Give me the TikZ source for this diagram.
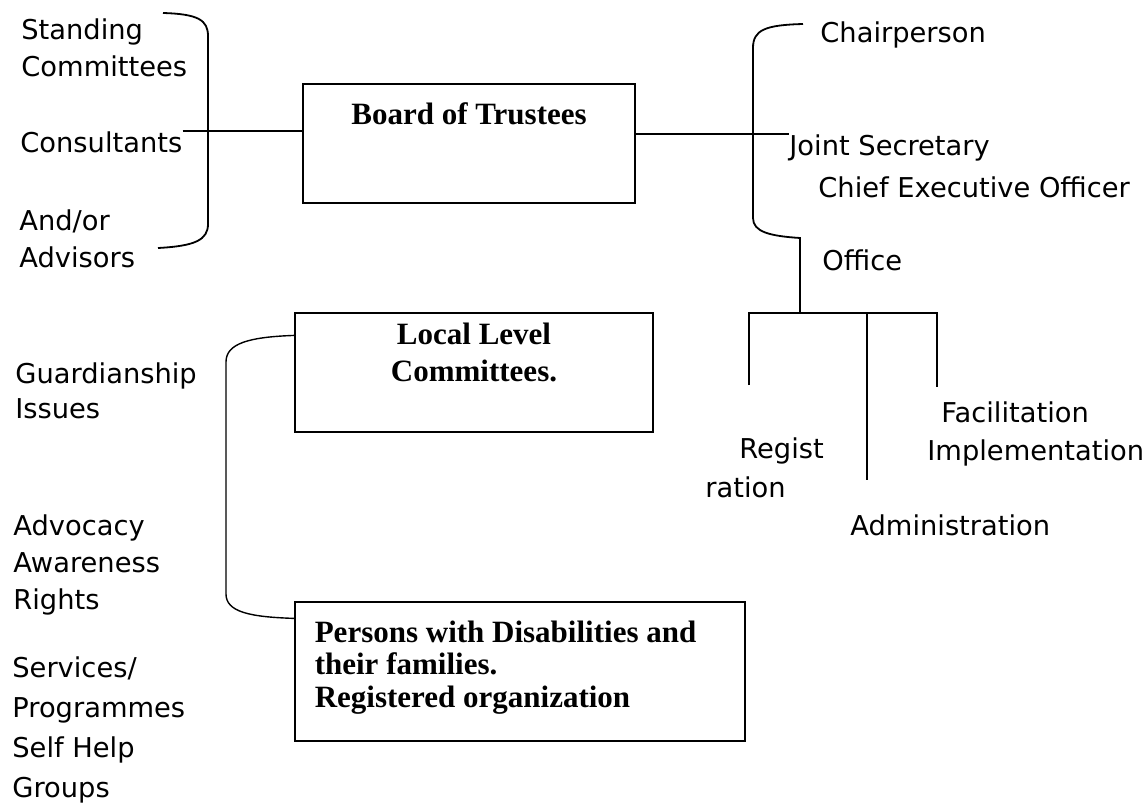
\documentclass[tikz,border=0pt]{standalone}
\usepackage{fontspec}
\newfontfamily\labelfont{DejaVu Sans}
\newfontfamily\boxfont{Liberation Serif}
\usetikzlibrary{positioning}

\begin{document}
\begin{tikzpicture}[x=0.5pt, y=-0.5pt,
        unit/.style={draw, line width=0.6pt, inner sep=0pt},
        role/.style={inner sep=0pt, align=left,
            font=\labelfont\fontsize{13.65}{18.5}\selectfont},
        title/.style={inner sep=0pt,
            font=\boxfont\bfseries\fontsize{15.5}{18.5}\selectfont},
        line/.style={draw, line width=0.9pt}]
        \useasboundingbox (0,0) rectangle (1148,804);
        %% Boxes
        \node [unit, minimum width=166pt, minimum height=59.5pt] at (469,143.5) (board) {};
        \node [unit, minimum width=179pt, minimum height=59.5pt] at (474,372.5) (lcc) {};
        \node [unit, minimum width=225pt, minimum height=69.5pt] at (520,671.5) (pwd) {};
        \node [title, anchor=base] at ([yshift=-20.5pt]board.north) (boardtxt) {Board of Trustees};
        \node [title, align=center, below=5pt of lcc.north] (lcctxt) {Local Level\\Committees.};
        \node [title, align=left, anchor=north west,
            font=\boxfont\bfseries\fontsize{15.5}{16.25}\selectfont]
            at ([xshift=10pt, yshift=-9.5pt]pwd.north west) (pwdtxt)
            {Persons with Disabilities and\\their families.\\Registered organization};
        %% Left column
        \node [role, anchor=north west] at (21,18.5) (standing) {Standing\\Committees};
        \node [role, anchor=base west] at (20,152) (consult) {Consultants};
        \node [role, anchor=north west] at (19,209.5) (advisors) {And/or\\Advisors};
        \node [role, anchor=north west, font=\labelfont\fontsize{13.65}{17.5}\selectfont]
            at (15,362.5) (guard) {Guardianship\\Issues};
        \node [role, anchor=north west] at (13,514.5) (advocacy) {Advocacy\\Awareness\\Rights};
        \node [role, anchor=north west, font=\labelfont\fontsize{13.65}{20}\selectfont]
            at (12,656.5) (services) {Services/\\Programmes\\Self Help\\Groups};
        %% Right column
        \node [role, anchor=base west] at (820,42) (chair) {Chairperson};
        \node [role, anchor=base west] at (789,155) (jointsec) {Joint Secretary};
        \node [role, anchor=base west] at (818,197) (ceo) {Chief Executive Officer};
        \node [role, anchor=base west] at (822,270) (office) {Office};
        \node [role, anchor=base west] at (739,458) (regist) {Regist};
        \node [role, anchor=base west] at (705,497) (ration) {ration};
        \node [role, anchor=base west] at (941,422) (facil) {Facilitation};
        \node [role, anchor=base west] at (927,460) (implem) {Implementation};
        \node [role, anchor=base west] at (850,535) (admin) {Administration};
        %% Branch points
        \coordinate (fork) at (800,313);
        \coordinate (regend) at (749,385);
        \coordinate (adminend) at (867,480);
        \coordinate (facilend) at (937,387);
        %% Braces
        \path [line] (163,13) .. controls (198,14) and (208,20) .. (208,36)
            -- (208,224) .. controls (208,240) and (195,246) .. (158,248);
        \path [line] (803,24) .. controls (765,25) and (753,30) .. (753,48)
            -- (753,218) .. controls (753,232) and (770,236) .. (800,238) -- (fork);
        \path [line, line width=0.7pt] ([yshift=-11.5pt]lcc.north west)
            .. controls (250,337) and (226,343) .. (226,362)
            -- (226,594) .. controls (226,612) and (250,617) .. ([yshift=-8.5pt]pwd.north west);
        %% Arcs
        \path [line] (consult.north east) -- (board.west |- consult.north east);
        \path [line] (board.east |- jointsec.north west) -- (jointsec.north west);
        \path [line] (regend) -- (regend |- fork) -- (facilend |- fork) -- (facilend);
        \path [line] (adminend |- fork) -- (adminend);
    \end{tikzpicture}
\end{document}
